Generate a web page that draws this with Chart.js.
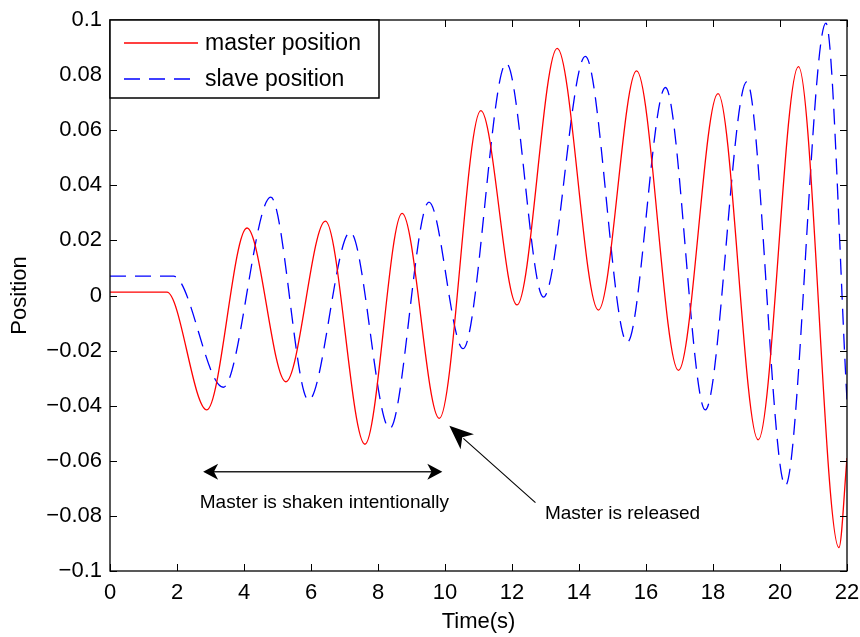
<!DOCTYPE html>
<html><head><meta charset="utf-8">
<script src="https://cdn.jsdelivr.net/npm/chart.js@4/dist/chart.umd.min.js"></script>
<style>html,body{margin:0;padding:0;background:#fff}#wrap{width:860px;height:637px}</style>
</head><body><div id="wrap"><canvas id="c" width="860" height="637"></canvas></div>
<script>
// ---- data ----
const masterTime = [0, 1.7, 2.89, 4.09, 5.25, 6.43, 7.61, 8.72, 9.83, 11.07, 12.15, 13.35, 14.58, 15.72, 16.97, 18.15, 19.35, 20.55, 21.76, 22];
const masterPos  = [0.0012, 0.0012, -0.0415, 0.0245, -0.0313, 0.027, -0.054, 0.0298, -0.0446, 0.0671, -0.0034, 0.0897, -0.0053, 0.0815, -0.0272, 0.0733, -0.0524, 0.0831, -0.0915, -0.059];
const slaveTime  = [0, 1.9, 3.38, 4.8, 5.93, 7.17, 8.35, 9.52, 10.54, 11.83, 12.94, 14.19, 15.44, 16.58, 17.77, 19.01, 20.16, 21.37, 22];
const slavePos   = [0.007, 0.007, -0.0333, 0.0357, -0.038, 0.023, -0.0483, 0.0339, -0.0193, 0.0843, -0.0006, 0.0868, -0.017, 0.0755, -0.0415, 0.0776, -0.069, 0.0989, -0.038];
const xTicks = [0, 2, 4, 6, 8, 10, 12, 14, 16, 18, 20, 22];
const yTicks = [-0.1, -0.08, -0.06, -0.04, -0.02, 0, 0.02, 0.04, 0.06, 0.08, 0.1];
const yTickLabels = ['\u22120.1', '\u22120.08', '\u22120.06', '\u22120.04', '\u22120.02', '0', '0.02', '0.04', '0.06', '0.08', '0.1'];
const seriesNames = ['master position', 'slave position'];
const xTitle = 'Time(s)';
const yTitle = 'Position';
const noteShaken = 'Master is shaken intentionally';
const noteReleased = 'Master is released';

const FONT = '"Liberation Sans", Arial, Helvetica, sans-serif';
Chart.defaults.font.family = FONT;
Chart.defaults.color = '#000';

function arrowHead(ctx, tx, ty, fx, fy, L, W) {
  let dx = fx - tx, dy = fy - ty; const n = Math.hypot(dx, dy); dx /= n; dy /= n;
  const px = -dy, py = dx;
  ctx.beginPath();
  ctx.moveTo(tx, ty);
  ctx.lineTo(tx + dx * L + px * W, ty + dy * L + py * W);
  ctx.lineTo(tx + dx * L * 0.72, ty + dy * L * 0.72);
  ctx.lineTo(tx + dx * L - px * W, ty + dy * L - py * W);
  ctx.closePath();
  ctx.fill();
}

const decorations = {
  id: 'decorations',
  afterDatasetsDraw(chart) {
    const { ctx, chartArea: a, scales: { x, y } } = chart;
    ctx.save();
    ctx.strokeStyle = '#000'; ctx.lineWidth = 1.3;
    ctx.strokeRect(a.left, a.top, a.right - a.left, a.bottom - a.top);
    const tl = 7;
    ctx.lineWidth = 1;
    ctx.beginPath();
    xTicks.forEach(v => {
      const p = Math.round(x.getPixelForValue(v)) + 0.5;
      ctx.moveTo(p, a.bottom); ctx.lineTo(p, a.bottom - tl);
      ctx.moveTo(p, a.top); ctx.lineTo(p, a.top + tl);
    });
    yTicks.forEach(v => {
      const p = Math.round(y.getPixelForValue(v)) + 0.5;
      ctx.moveTo(a.left, p); ctx.lineTo(a.left + tl, p);
      ctx.moveTo(a.right, p); ctx.lineTo(a.right - tl, p);
    });
    ctx.stroke();

    ctx.fillStyle = '#000'; ctx.strokeStyle = '#222';
    const x1 = x.getPixelForValue(2.78), x2 = x.getPixelForValue(9.92), yy = y.getPixelForValue(-0.0640);
    ctx.lineWidth = 1.6;
    ctx.beginPath(); ctx.moveTo(x1 + 10, yy); ctx.lineTo(x2 - 10, yy); ctx.stroke();
    arrowHead(ctx, x1, yy, x2, yy, 15, 8);
    arrowHead(ctx, x2, yy, x1, yy, 15, 8);
    ctx.font = '19px ' + FONT; ctx.textAlign = 'center'; ctx.textBaseline = 'middle';
    ctx.fillText(noteShaken, x.getPixelForValue(6.4), y.getPixelForValue(-0.0752));

    const tx = x.getPixelForValue(10.13), ty = y.getPixelForValue(-0.0473);
    const fx = x.getPixelForValue(12.7), fy = y.getPixelForValue(-0.0752);
    ctx.lineWidth = 1.1; ctx.strokeStyle = '#000';
    ctx.beginPath(); ctx.moveTo(fx, fy); ctx.lineTo(tx + 14, ty + 12.5); ctx.stroke();
    arrowHead(ctx, tx, ty, fx, fy, 24, 10);
    ctx.fillText(noteReleased, x.getPixelForValue(15.3), y.getPixelForValue(-0.0793));

    const lx = a.left, ly = a.top, lw = 269, lh = 78;
    ctx.fillStyle = '#fff'; ctx.fillRect(lx, ly, lw, lh);
    ctx.strokeStyle = '#000'; ctx.lineWidth = 1.5; ctx.strokeRect(lx, ly, lw, lh);
    ctx.font = '23px ' + FONT; ctx.textAlign = 'left'; ctx.textBaseline = 'middle'; ctx.fillStyle = '#000';
    chart.data.datasets.forEach((ds, i) => {
      const rowY = ly + 23 + i * 36;
      ctx.save();
      ctx.strokeStyle = ds.borderColor; ctx.lineWidth = 1.3;
      ctx.setLineDash(ds.borderDash || []);
      ctx.beginPath(); ctx.moveTo(lx + 14, rowY); ctx.lineTo(lx + 88, rowY); ctx.stroke();
      ctx.restore();
      ctx.fillText(ds.label, lx + 95, rowY + 1);
    });
    ctx.restore();
  }
};

new Chart(document.getElementById('c'), {
  type: 'line',
  data: {
    datasets: [
      { label: seriesNames[0], data: masterTime.map((t, i) => ({ x: t, y: masterPos[i] })),
        borderColor: '#ff0000', borderWidth: 1.3, pointRadius: 0, cubicInterpolationMode: 'monotone', fill: false },
      { label: seriesNames[1], data: slaveTime.map((t, i) => ({ x: t, y: slavePos[i] })),
        borderColor: '#0000ff', borderWidth: 1.3, borderDash: [16, 9], pointRadius: 0, cubicInterpolationMode: 'monotone', fill: false }
    ]
  },
  options: {
    responsive: false, animation: false, devicePixelRatio: 1,
    layout: { padding: { top: 20, right: 13, left: 0, bottom: 0 } },
    plugins: { legend: { display: false }, tooltip: { enabled: false } },
    scales: {
      x: {
        type: 'linear', min: 0, max: 22,
        afterBuildTicks: s => { s.ticks = xTicks.map(v => ({ value: v })); },
        afterFit: s => { s.height = 66; s.paddingLeft = 0; s.paddingRight = 0; },
        grid: { display: false, drawTicks: false }, border: { display: false },
        ticks: { font: { size: 22 }, padding: 9, maxRotation: 0, autoSkip: false, callback: v => String(v) },
        title: { display: true, text: xTitle, font: { size: 22 }, padding: { top: 0, bottom: 2 } }
      },
      y: {
        type: 'linear', min: -0.1, max: 0.1,
        afterBuildTicks: s => { s.ticks = yTicks.map(v => ({ value: v })); },
        afterFit: s => { s.width = 110; s.paddingTop = 0; s.paddingBottom = 0; },
        grid: { display: false, drawTicks: false }, border: { display: false },
        ticks: { font: { size: 22 }, padding: 8, autoSkip: false, callback: (v, i) => yTickLabels[i] },
        title: { display: true, text: yTitle, font: { size: 22 }, padding: { top: 7, bottom: 0 } }
      }
    }
  },
  plugins: [decorations]
});
</script>
</body></html>
